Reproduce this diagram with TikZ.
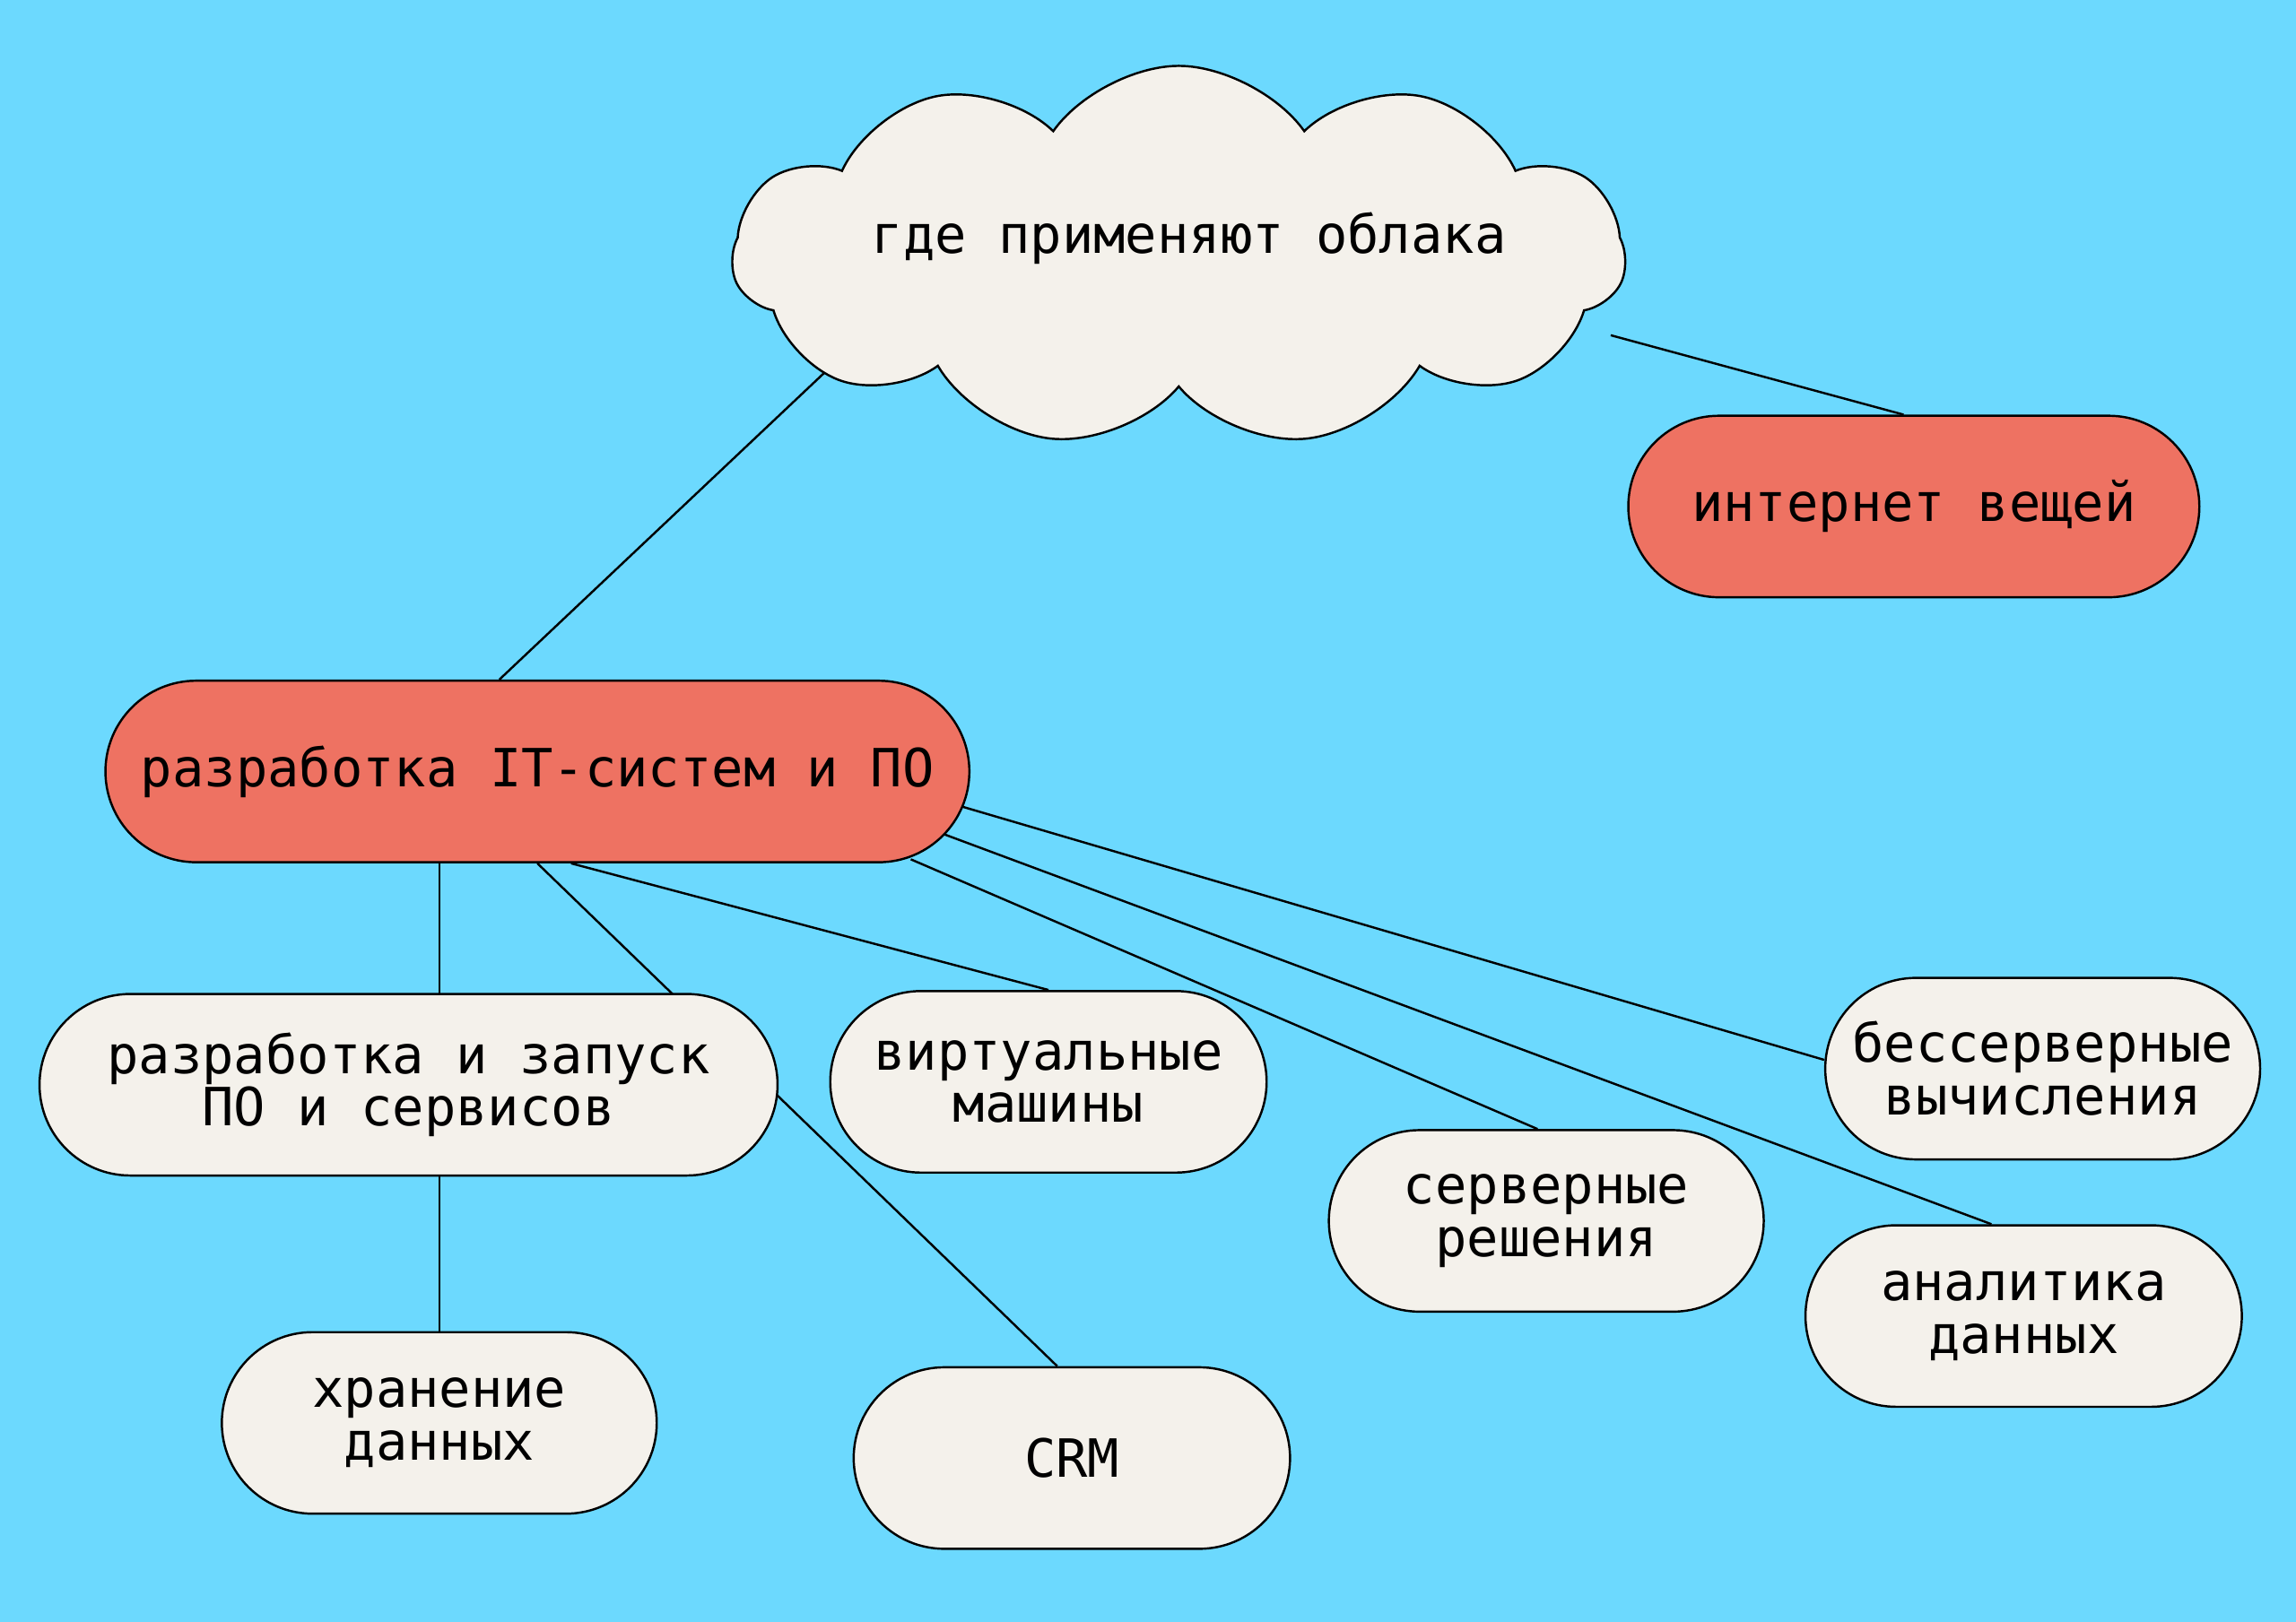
\documentclass[tikz,border=0pt]{standalone}
\usepackage{fontspec}
\setmonofont{DejaVu Sans Mono}
\usetikzlibrary{shapes.symbols,shapes.misc,calc,backgrounds}
\definecolor{skyback}{HTML}{6CD9FE}
\definecolor{paper}{HTML}{F4F1EB}
\definecolor{coral}{HTML}{EE7262}
\tikzset{
  pill/.style={rounded rectangle, draw=black, line width=1.5pt, fill=paper,
    minimum height=124pt, inner sep=0pt, align=center,
    font=\ttfamily\fontsize{36}{36}\selectfont},
  hotpill/.style={pill, fill=coral},
  link/.style={draw=black, line width=1.5pt}
}
\begin{document}
\begin{tikzpicture}[x=1pt,y=-1pt]
  \useasboundingbox (0,0) rectangle (1568,1108);
  % cloud
  \node[cloud, cloud puffs=11, cloud puff arc=110, aspect=2.4, draw=black,
    line width=1.5pt, fill=paper, minimum width=610pt, minimum height=260pt,
    font=\ttfamily\fontsize{36}{36}\selectfont] (top) at (805,175) {};
  \node[font=\ttfamily\fontsize{36}{36}\selectfont] (toptext) at (812,163) {где применяют облака};
  % main branches
  \node[hotpill, minimum width=390pt] (iot) at (1307,346) {интернет вещей};
  \node[hotpill, minimum width=590pt] (dev) at (367,527) {разработка IT-систем и ПО};
  % leaves
  \node[pill, minimum width=504pt] (run) at (279,741) {разработка и запуск\\ПО и сервисов};
  \node[pill, minimum width=298pt] (vm) at (716,739) {виртуальные\\машины};
  \node[pill, minimum width=297pt] (store) at (300,972) {хранение\\данных};
  \node[pill, minimum width=298pt] (crm) at (732,996) {CRM};
  \node[pill, minimum width=297pt] (srv) at (1056,834) {серверные\\решения};
  \node[pill, minimum width=297pt] (bless) at (1395,730) {бессерверные\\вычисления};
  \node[pill, minimum width=298pt] (anal) at (1382,899) {аналитика\\данных};
  % connectors
  \begin{pgfonlayer}{background}
    \fill[skyback] (0,0) rectangle (1568,1108);
    \draw[link] ($(top.center)+(-235,73)$) -- ([xshift=-26pt]dev.north);
    \draw[link] ($(top.center)+(295,54)$) -- ([xshift=-7pt]iot.north);
    \draw[link] (store.north |- dev.south) -- (store.north);
    \draw[link] (dev.south) -- ([xshift=-10pt]crm.north);
    \draw[link] ([xshift=23pt]dev.south) -- (vm.north);
    \draw[link] ($(dev.center)+(255,60)$) -- ([xshift=-6pt]srv.north);
    \draw[link] ($(dev.center)+(278,43)$) -- ([xshift=-22pt]anal.north);
    \draw[link] ($(dev.center)+(290,24)$) -- ([yshift=6pt]bless.west);
  \end{pgfonlayer}
\end{tikzpicture}
\end{document}
